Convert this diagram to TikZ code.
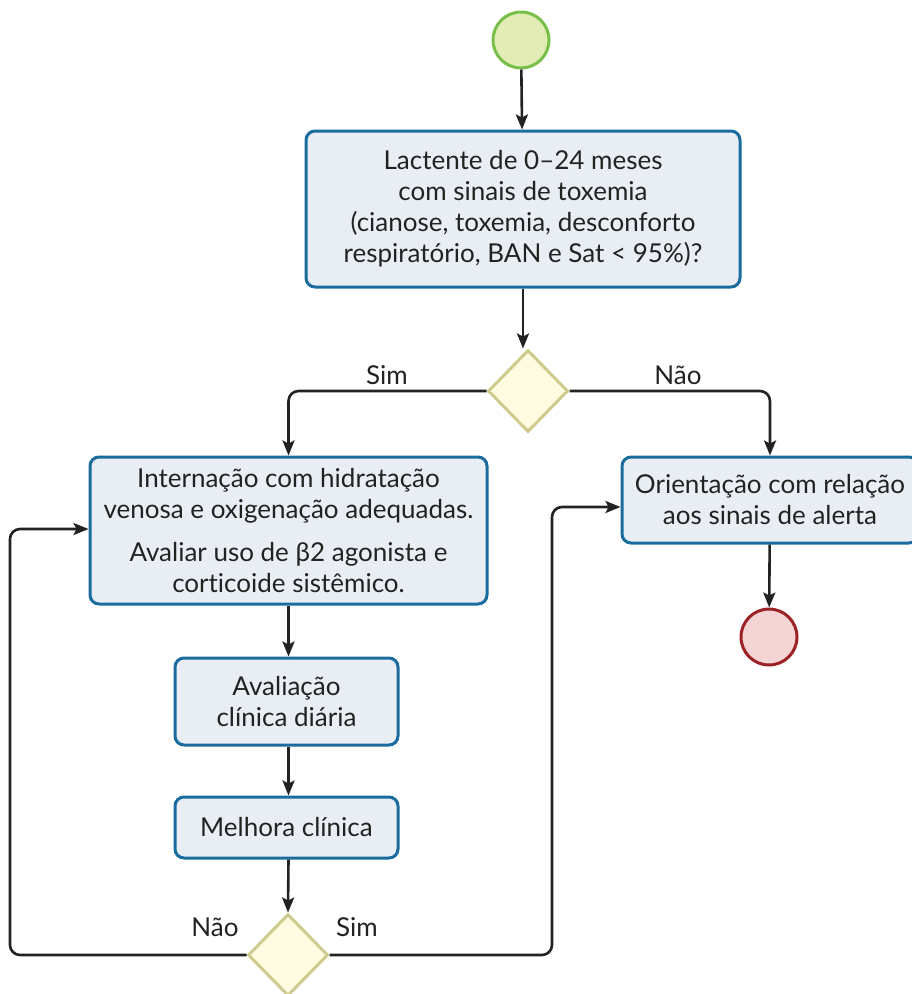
\documentclass[tikz,border=0pt]{standalone}
\usepackage{fontspec}
\setmainfont[RawFeature=-liga]{Lato}
\usetikzlibrary{shapes.geometric,arrows.meta}
\definecolor{boxblue}{HTML}{1B6C9E}
\definecolor{boxfill}{HTML}{E8EEF4}
\definecolor{dfill}{HTML}{FEFBE1}
\definecolor{ddraw}{HTML}{CFCB8F}
\definecolor{gdraw}{HTML}{78BF4A}
\definecolor{gfill}{HTML}{E4ECB5}
\definecolor{rdraw}{HTML}{9C2226}
\definecolor{rfill}{HTML}{F4D4D4}
\definecolor{lin}{HTML}{222222}
\begin{document}
\begin{tikzpicture}[x=1pt,y=-1pt,
  fs/.style={font=\fontsize{26}{31}\selectfont},
  box/.style={draw=boxblue, fill=boxfill, line width=3pt, rounded corners=9pt, align=center, inner sep=0pt, fs, text=lin},
  dec/.style={diamond, draw=ddraw, fill=dfill, line width=3pt, inner sep=0pt, minimum width=80pt, minimum height=82pt},
  startc/.style={circle, draw=gdraw, fill=gfill, line width=3pt, minimum size=56pt, inner sep=0pt},
  endc/.style={circle, draw=rdraw, fill=rfill, line width=3pt, minimum size=56pt, inner sep=0pt},
  arr/.style={draw=lin, line width=2.6pt, -{Stealth[length=15pt,width=12pt,inset=3pt]}},
  lab/.style={fs, text=lin, inner sep=0pt}
]
\useasboundingbox (0,0) rectangle (912,994);
\node[startc] (start) at (521,40) {};
\node[box, minimum width=434pt, minimum height=156pt] (b1) at (523,209)
  {Lactente de 0–24 meses\\com sinais de toxemia\\(cianose, toxemia, desconforto\\respiratório, BAN e Sat < 95\%)?};
\node[dec] (d1) at (528,391) {};
\node[box, minimum width=397pt, minimum height=147pt] (b2) at (288.5,530.5)
  {Internação com hidratação\\venosa e oxigenação adequadas.\\[12pt]Avaliar uso de β2 agonista e\\corticoide sistêmico.};
\node[box, minimum width=296pt, minimum height=86pt] (b3) at (770,500)
  {Orientação com relação\\aos sinais de alerta};
\node[endc] (end) at (769,637) {};
\node[box, minimum width=223pt, minimum height=87pt] (b4) at (286.5,701.5)
  {Avaliação\\clínica diária};
\node[box, minimum width=223pt, minimum height=61pt] (b5) at (286.5,827.5)
  {Melhora clínica};
\node[dec] (d2) at (288,955) {};
\coordinate (lc) at (10,955);
\coordinate (rc) at (552,955);
\draw[arr] (start) -- (b1);
\draw[arr] (b1) -- (b1.south |- d1.north);
\draw[arr, rounded corners=10pt] (d1.west) -| (b2.north);
\draw[arr, rounded corners=10pt] (d1.east) -| (b3.north);
\draw[arr] (b3) -- (end);
\draw[arr] (b2.south) -- (b2.south |- b4.north);
\draw[arr] (b2.south |- b4.south) -- (b2.south |- b5.north);
\draw[arr] (b2.south |- b5.south) -- (d2.north);
\draw[arr, rounded corners=10pt] (d2.west) -- (lc) |- ([yshift=1.5pt]b2.west);
\draw[arr, rounded corners=10pt] (d2.east) -- (rc) |- ([yshift=-7pt]b3.west);
\node[lab] (l1) at (387,375) {Sim};
\node[lab] (l2) at (678,375) {Não};
\node[lab] (l3) at (215,927) {Não};
\node[lab] (l4) at (357,927) {Sim};
\end{tikzpicture}
\end{document}
